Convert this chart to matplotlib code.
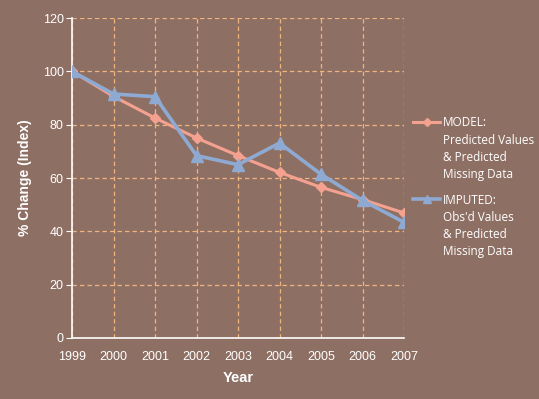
import matplotlib
matplotlib.use("Agg")
import matplotlib.pyplot as plt

years = [1999, 2000, 2001, 2002, 2003, 2004, 2005, 2006, 2007]
model = [100, 90.6, 82.5, 75.0, 68.4, 62.1, 56.5, 51.9, 46.9]
imputed = [100, 91.5, 90.5, 68.4, 65.0, 73.1, 61.4, 51.6, 43.4]
model_label = ["MODEL:", "Predicted Values", "& Predicted", "Missing Data"]
imputed_label = ["IMPUTED:", "Obs'd Values", "& Predicted", "Missing Data"]

bg = "#8E6F64"
grid_c = "#F0B57E"
model_c = "#F4A190"
imp_c = "#8EAAD2"

plt.rcParams['font.family'] = ['Liberation Sans', 'DejaVu Sans']

fig = plt.figure(figsize=(5.39, 3.99), dpi=100, facecolor=bg)
ax = fig.add_axes([72/539, 61/399, (404-72)/539, (338-18)/399])
ax.set_facecolor(bg)

l1, = ax.plot(years, model, color=model_c, lw=2.2, marker='D', ms=5.5,
              mec=model_c, mfc=model_c, zorder=3)
l2, = ax.plot(years, imputed, color=imp_c, lw=2.6, marker='^', ms=8,
              mec=imp_c, mfc=imp_c, zorder=4)

ax.set_xlim(1999, 2007)
ax.set_ylim(0, 120)
ax.set_xticks(years)
ax.set_xticklabels([str(y) for y in years])
ax.set_yticks(range(0, 121, 20))
ax.grid(True, color=grid_c, ls=(0, (3.5, 2.5)), lw=0.9)
ax.set_axisbelow(True)
for s in ['top', 'right']:
    ax.spines[s].set_visible(False)
for s in ['left', 'bottom']:
    ax.spines[s].set_color('white')
    ax.spines[s].set_linewidth(1.2)
ax.tick_params(axis='y', colors='white', length=4, direction='out', labelsize=9, pad=2)
ax.tick_params(axis='x', colors='white', length=0, labelsize=9, pad=9)
ax.set_xlabel("Year", color='white', fontsize=10.5, fontweight='bold', labelpad=6)
ax.set_ylabel("% Change (Index)", color='white', fontsize=10, fontweight='bold', labelpad=8)

legfont = {'family': ['Open Sans', 'DejaVu Sans'], 'size': 8.5}
for line, lab, ypix in [(l1, model_label, 123), (l2, imputed_label, 200)]:
    leg = fig.legend(handles=[line], labels=[lab[0]], loc='center left',
                     bbox_to_anchor=(413/539, 1 - ypix/399), frameon=False,
                     handlelength=2.3, handletextpad=0.2, borderaxespad=0,
                     borderpad=0, prop=legfont, markerscale=0.8)
    for t in leg.get_texts():
        t.set_color('white')
    fig.text(443/539, 1 - (ypix + 11)/399, "\n".join(lab[1:]), color='white',
             ha='left', va='top', linespacing=1.4, **{'fontfamily': legfont['family'], 'fontsize': 8.5})

fig.savefig("out.png", dpi=100, facecolor=bg)
